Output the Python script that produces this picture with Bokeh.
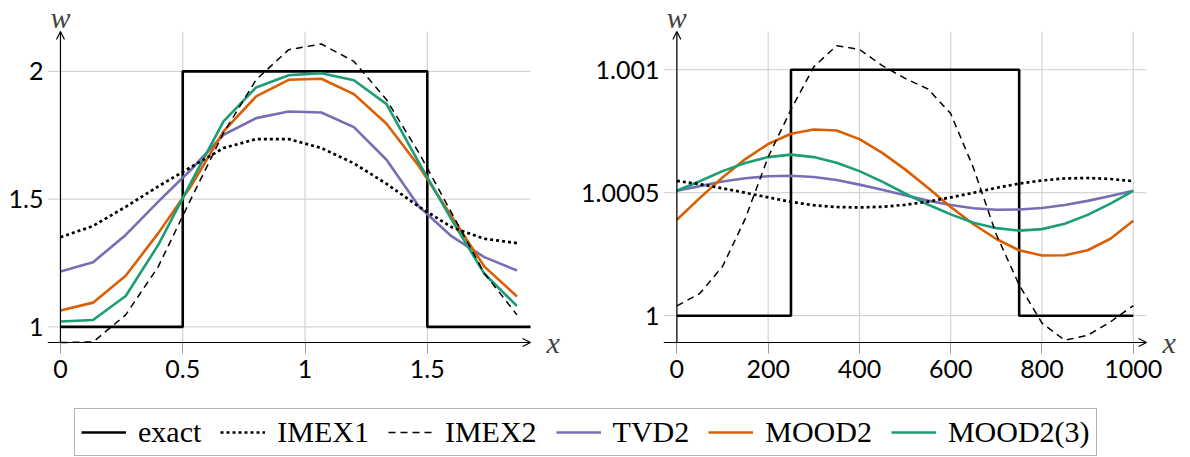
from bokeh.plotting import figure
from bokeh.layouts import column, row
from bokeh.models import Arrow, OpenHead, Label, Legend, LegendItem, FixedTicker, Range1d
from bokeh.embed import file_html
from bokeh.resources import INLINE

# ---------------- data: left panel ----------------
left_x = [0.0, 0.1333, 0.2667, 0.4, 0.5333, 0.6667, 0.8, 0.9333, 1.0667, 1.2, 1.3333, 1.4667, 1.6, 1.7333, 1.8667]
left_imex1 = [1.351, 1.395, 1.47, 1.55, 1.625, 1.70, 1.735, 1.735, 1.70, 1.64, 1.56, 1.47, 1.39, 1.345, 1.328]
left_imex2 = [0.939, 0.941, 1.047, 1.236, 1.50, 1.759, 1.967, 2.085, 2.107, 2.039, 1.889, 1.68, 1.445, 1.21, 1.047]
left_tvd2 = [1.217, 1.253, 1.360, 1.49, 1.615, 1.752, 1.817, 1.843, 1.839, 1.782, 1.654, 1.47, 1.354, 1.273, 1.221]
left_mood2 = [1.064, 1.095, 1.200, 1.367, 1.55, 1.765, 1.902, 1.967, 1.971, 1.911, 1.795, 1.628, 1.432, 1.236, 1.119]
left_mood23 = [1.021, 1.027, 1.121, 1.321, 1.565, 1.804, 1.937, 1.985, 1.993, 1.965, 1.872, 1.641, 1.419, 1.208, 1.082]
left_exact_x = [0.0, 0.5, 0.5, 1.5, 1.5, 1.922]
left_exact_y = [1.0, 1.0, 2.0, 2.0, 1.0, 1.0]
left_axis_x = (-0.053, 1.922)      # extent of the drawn x axis (arrow)
left_axis_y = (0.939, 2.156)       # extent of the drawn y axis (arrow)
left_xticks = [0, 0.5, 1, 1.5]
left_xtick_labels = ["0", "0.5", "1", "1.5"]
left_yticks = [1, 1.5, 2]
left_ytick_labels = ["1", "1.5", "2"]

# ---------------- data: right panel (w - 1, in units of 1e-3) ----------------
right_x = [0, 50, 100, 150, 200, 250, 300, 350, 400, 450, 500, 550, 600, 650, 700, 750, 800, 850, 900, 950, 1000]
right_imex1 = [0.548, 0.535, 0.518, 0.500, 0.481, 0.463, 0.449, 0.442, 0.440, 0.443, 0.451, 0.464, 0.481, 0.500, 0.520, 0.537, 0.550, 0.558, 0.560, 0.556, 0.547]
right_imex2 = [0.040, 0.090, 0.200, 0.395, 0.645, 0.838, 1.012, 1.098, 1.083, 1.017, 0.965, 0.922, 0.822, 0.600, 0.330, 0.125, -0.030, -0.100, -0.080, -0.025, 0.041]
right_tvd2 = [0.508, 0.527, 0.546, 0.559, 0.567, 0.569, 0.564, 0.552, 0.533, 0.512, 0.490, 0.468, 0.450, 0.437, 0.431, 0.432, 0.438, 0.450, 0.467, 0.487, 0.508]
right_mood2 = [0.390, 0.478, 0.562, 0.637, 0.698, 0.740, 0.757, 0.753, 0.718, 0.662, 0.595, 0.520, 0.442, 0.372, 0.312, 0.266, 0.245, 0.246, 0.266, 0.313, 0.386]
right_mood23 = [0.508, 0.547, 0.588, 0.621, 0.645, 0.655, 0.645, 0.622, 0.588, 0.545, 0.497, 0.452, 0.412, 0.378, 0.356, 0.346, 0.352, 0.374, 0.410, 0.456, 0.508]
right_exact_x = [0, 250, 250, 750, 750, 1000]
right_exact_y = [0.0, 0.0, 1.0, 1.0, 0.0, 0.0]
right_axis_x = (-29.3, 1029.0)
right_axis_y = (0.999891, 1.0011557)
right_xticks = [0, 200, 400, 600, 800, 1000]
right_yticks = [1.0, 1.0005, 1.001]
right_ytick_labels = ["1", "1.0005", "1.001"]

series_names = ["exact", "IMEX1", "IMEX2", "TVD2", "MOOD2", "MOOD2(3)"]

# ---------------- styles ----------------
STYLES = {
    "exact": dict(line_color="black", line_width=2.6),
    "IMEX1": dict(line_color="black", line_width=2.7, line_dash="3 3"),
    "IMEX2": dict(line_color="black", line_width=1.5, line_dash="7 5"),
    "TVD2": dict(line_color="#7570b3", line_width=2.6),
    "MOOD2": dict(line_color="#d95f02", line_width=2.6),
    "MOOD2(3)": dict(line_color="#1b9e77", line_width=2.6),
}
TICK_FONT = "Lato"
TICK_SIZE = "25px"
MATH_FONT = "Liberation Serif"
GRID_COLOR = "#cccccc"
AX_W, AX_H = 483, 311          # pixel size of the axis box
PAD_TOP, PAD_BOTTOM = 31, 11    # extra frame room for the "w" label / tick marks
FIG_H = 395


def make_panel(ax_x, ax_y, xticks, xlabels, yticks, ylabels, border_left, pad_right):
    xppu = AX_W / (ax_x[1] - ax_x[0])
    yppu = AX_H / (ax_y[1] - ax_y[0])
    frame_h = AX_H + PAD_TOP + PAD_BOTTOM
    p = figure(frame_width=AX_W + pad_right, frame_height=frame_h,
               x_range=Range1d(ax_x[0], ax_x[1] + pad_right / xppu),
               y_range=Range1d(ax_y[0] - PAD_BOTTOM / yppu, ax_y[1] + PAD_TOP / yppu),
               output_backend="svg", toolbar_location=None, title=None,
               min_border_left=border_left, min_border_right=0,
               min_border_top=0, min_border_bottom=FIG_H - frame_h)
    p.outline_line_color = None
    p.background_fill_color = "white"
    p.border_fill_color = "white"
    p.grid.visible = False
    for ax, ticks, labels in ((p.xaxis[0], xticks, xlabels), (p.yaxis[0], yticks, ylabels)):
        ax.ticker = FixedTicker(ticks=ticks)
        ax.major_label_overrides = {t: l for t, l in zip(ticks, labels)}
        ax.axis_line_color = None
        ax.minor_tick_line_color = None
        ax.major_label_text_font = TICK_FONT
        ax.major_label_text_font_size = TICK_SIZE
        ax.major_label_text_color = "black"
    p.xaxis.major_tick_line_color = "#999999"
    p.xaxis.major_tick_in = PAD_BOTTOM
    p.xaxis.major_tick_out = 0
    p.xaxis.major_label_standoff = 6
    p.yaxis.major_tick_line_color = None
    p.yaxis.major_tick_in = 0
    p.yaxis.major_tick_out = 0
    p.yaxis.major_label_standoff = 4
    # grid lines limited to the axis box
    p.segment(x0=xticks, y0=[ax_y[0]] * len(xticks), x1=xticks, y1=[ax_y[1]] * len(xticks),
              line_color=GRID_COLOR, line_width=1)
    p.segment(x0=[ax_x[0]] * len(yticks), y0=yticks, x1=[ax_x[1]] * len(yticks), y1=yticks,
              line_color=GRID_COLOR, line_width=1)
    # axis lines with arrows
    p.add_layout(Arrow(x_start=ax_x[0], y_start=ax_y[0], x_end=ax_x[1], y_end=ax_y[0],
                       line_color="black", line_width=1.2,
                       end=OpenHead(size=8, line_color="black", line_width=1.2)))
    p.add_layout(Arrow(x_start=0, y_start=ax_y[0], x_end=0, y_end=ax_y[1],
                       line_color="black", line_width=1.2,
                       end=OpenHead(size=8, line_color="black", line_width=1.2)))
    p.add_layout(Label(x=0, y=ax_y[1], text="w", text_font=MATH_FONT, text_font_style="italic",
                       text_font_size="30px", text_align="center", text_baseline="alphabetic",
                       y_offset=14))
    p.add_layout(Label(x=ax_x[1], y=ax_y[0], text="x", text_font=MATH_FONT, text_font_style="italic",
                       text_font_size="30px", text_align="left", text_baseline="alphabetic",
                       x_offset=16, y_offset=0))
    return p


# left
p1 = make_panel(left_axis_x, left_axis_y, left_xticks, left_xtick_labels,
                left_yticks, left_ytick_labels, 47, 34)
p1.line(left_exact_x, left_exact_y, **STYLES["exact"])
for name, ys in (("TVD2", left_tvd2), ("MOOD2", left_mood2), ("MOOD2(3)", left_mood23),
                 ("IMEX1", left_imex1), ("IMEX2", left_imex2)):
    p1.line(left_x, ys, line_join="round", **STYLES[name])

# right
right_xlabels = [str(t) for t in right_xticks]
p2 = make_panel(right_axis_x, right_axis_y, right_xticks, right_xlabels,
                right_yticks, right_ytick_labels, 99, 44)


def shift(vals):
    return [1.0 + v * 1e-3 for v in vals]


p2.line(right_exact_x, shift(right_exact_y), **STYLES["exact"])
for name, ys in (("TVD2", right_tvd2), ("MOOD2", right_mood2), ("MOOD2(3)", right_mood23),
                 ("IMEX1", right_imex1), ("IMEX2", right_imex2)):
    p2.line(right_x, shift(ys), line_join="round", **STYLES[name])

# legend strip: proxy renderers reuse the left-panel data, but the strip's ranges
# are placed away from it so only the legend itself is visible
p3 = figure(width=1190, height=62, output_backend="svg", toolbar_location=None, title=None,
            x_axis_location=None, y_axis_location=None,
            x_range=Range1d(10, 11), y_range=Range1d(10, 11),
            min_border_left=74, min_border_top=13, min_border_right=0, min_border_bottom=0)
p3.outline_line_color = None
p3.grid.visible = False
proxy_data = {"exact": (left_exact_x, left_exact_y), "IMEX1": (left_x, left_imex1),
              "IMEX2": (left_x, left_imex2), "TVD2": (left_x, left_tvd2),
              "MOOD2": (left_x, left_mood2), "MOOD2(3)": (left_x, left_mood23)}
items = []
for name in series_names:
    xs, ys = proxy_data[name]
    r = p3.line(xs, ys, **STYLES[name])
    items.append(LegendItem(label=name, renderers=[r]))
legend = Legend(items=items, orientation="horizontal", location="top_left",
                label_text_font="Liberation Serif", label_text_font_size="30px",
                label_text_color="black",
                glyph_width=45, glyph_height=28, label_height=28, label_standoff=12,
                spacing=19, padding=6, margin=0,
                border_line_color="#666666", border_line_width=1.5,
                background_fill_color="white", background_fill_alpha=1.0)
p3.add_layout(legend)

layout = column(row(p1, p2), p3)
open("out.html", "w").write(file_html(layout, INLINE))
